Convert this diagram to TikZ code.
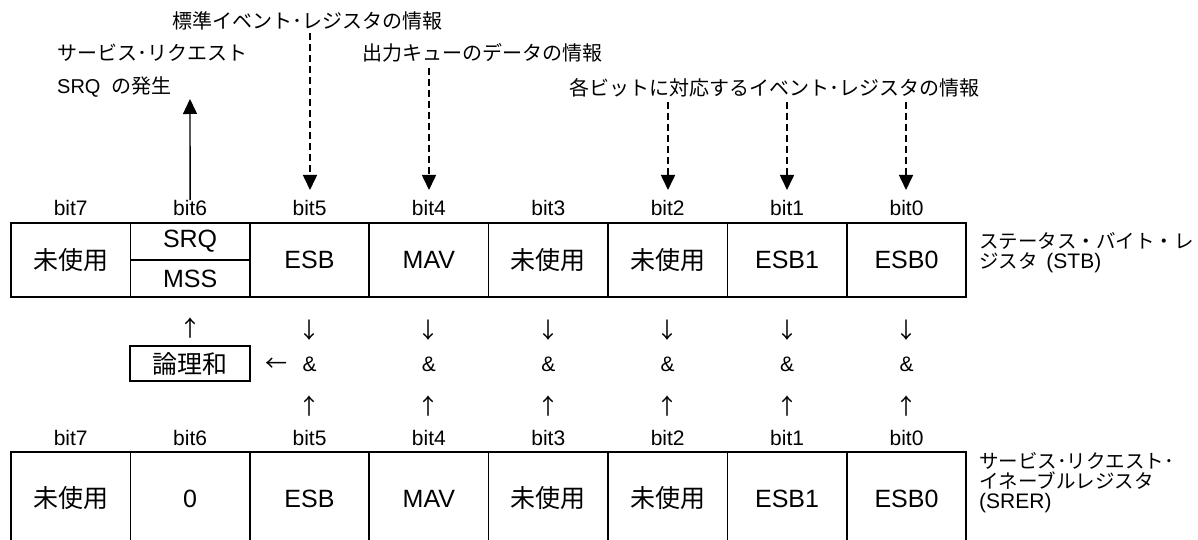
\documentclass[tikz,border=0pt]{standalone}
\usepackage{fontspec}
\setmainfont{Liberation Sans}
\newfontfamily\jp{Noto Sans CJK JP}
\newcommand{\latlbl}{\fontspec{Liberation Sans}\fontsize{21}{20}\selectfont}
\usetikzlibrary{arrows.meta}
\begin{document}
\begin{tikzpicture}[x=1pt,y=-1pt,
  cell/.style={draw,line width=1.7pt,minimum width=119.4pt,inner sep=0pt,font=\fontsize{25}{25}\selectfont},
  bitlbl/.style={inner sep=0pt,font=\fontsize{21}{21}\selectfont},
  ann/.style={inner sep=0pt,anchor=west,font=\fontsize{20}{20}\selectfont\jp},
  glyph/.style={inner sep=0pt,font=\fontsize{22}{22}\selectfont\jp},
  amp/.style={inner sep=0pt,font=\fontsize{21}{21}\selectfont},
  reglbl/.style={inner sep=0pt,anchor=west,align=left,font=\fontsize{19.5}{20}\selectfont},
  dasharrow/.style={line width=1.6pt,dash pattern=on 7pt off 4pt,-{Triangle[length=15pt,width=14pt]}},
  solidarrow/.style={line width=1.4pt,-{Triangle[length=15pt,width=14pt]}}]
\useasboundingbox (0,0) rectangle (1198,540);

% annotations
\node[ann] (ann1) at (172,21) {標準イベント･レジスタの情報};
\node[ann] (ann2) at (57,53) {サービス･リクエスト};
\node[ann] (ann3) at (362,53) {出力キューのデータの情報};
\node[ann] (ann4) at (57,87) {\fontspec{Liberation Sans}SRQ\ \ \jp の発生};
\node[ann] (ann5) at (569,88) {各ビットに対応するイベント･レジスタの情報};

% bit labels
\foreach \n/\x in {7/70.7,6/190.1,5/309.5,4/428.9,3/548.3,2/667.7,1/787.1,0/906.5}{
  \node[bitlbl] (tb\n) at (\x,208) {bit\n};
  \node[bitlbl] (bb\n) at (\x,438) {bit\n};
}

% status byte register
\node[cell,minimum height=74pt] (s7) at (70.7,260) {\jp 未使用};
\node[cell,minimum height=37pt] (srq) at (190.1,241.5) {SRQ};
\node[cell,minimum height=37pt] (mss) at (190.1,278.5) {MSS};
\node[cell,minimum height=74pt] (s5) at (309.5,260) {ESB};
\node[cell,minimum height=74pt] (s4) at (428.9,260) {MAV};
\node[cell,minimum height=74pt] (s3) at (548.3,260) {\jp 未使用};
\node[cell,minimum height=74pt] (s2) at (667.7,260) {\jp 未使用};
\node[cell,minimum height=74pt] (s1) at (787.1,260) {ESB1};
\node[cell,minimum height=74pt] (s0) at (906.5,260) {ESB0};
\node[reglbl] (stb) at (979,252.5) {\jp ステータス・バイト・レ\\\jp ジスタ\ \ {\latlbl (STB)}};

% service request enable register
\node[cell,minimum height=93pt] (e7) at (70.7,498.5) {\jp 未使用};
\node[cell,minimum height=93pt] (e6) at (190.1,498.5) {0};
\node[cell,minimum height=93pt] (e5) at (309.5,498.5) {ESB};
\node[cell,minimum height=93pt] (e4) at (428.9,498.5) {MAV};
\node[cell,minimum height=93pt] (e3) at (548.3,498.5) {\jp 未使用};
\node[cell,minimum height=93pt] (e2) at (667.7,498.5) {\jp 未使用};
\node[cell,minimum height=93pt] (e1) at (787.1,498.5) {ESB1};
\node[cell,minimum height=93pt] (e0) at (906.5,498.5) {ESB0};
\node[reglbl] (srer) at (979,483) {\jp サービス･リクエスト･\\\jp イネーブルレジスタ\\{\latlbl (SRER)}};

% logic
\node[draw,line width=1.7pt,minimum width=120.5pt,minimum height=35pt,inner sep=0pt,font=\fontsize{25}{25}\selectfont\jp] (or) at (190,363.5) {論理和};
\node[glyph] (upor) at (190.1,328) {↑};
\node[glyph] (left) at (276,365) {←};
\foreach \n/\x in {5/309.5,4/428.9,3/548.3,2/667.7,1/787.1,0/906.5}{
  \node[glyph] (dn\n) at (\x,330) {↓};
  \node[amp] (and\n) at (\x,364) {\&};
  \node[glyph] (up\n) at (\x,406) {↑};
}

% arrows
\coordinate (tip5) at (310,190);
\coordinate (tip4) at (429,190);
\coordinate (tip2) at (668,190);
\coordinate (tip1) at (787,190);
\coordinate (tip0) at (906,190);
\coordinate (srqtip) at (190,99);
\draw[dasharrow] (ann1.south -| tip5) ++(0,3) -- (tip5);
\draw[dasharrow] (ann3.south -| tip4) ++(0,5) -- (tip4);
\draw[dasharrow] (ann5.south -| tip2) ++(0,4) -- (tip2);
\draw[dasharrow] (ann5.south -| tip1) ++(0,4) -- (tip1);
\draw[dasharrow] (ann5.south -| tip0) ++(0,4) -- (tip0);
\draw[solidarrow] (tb6.north) -- (srqtip);
\end{tikzpicture}
\end{document}
